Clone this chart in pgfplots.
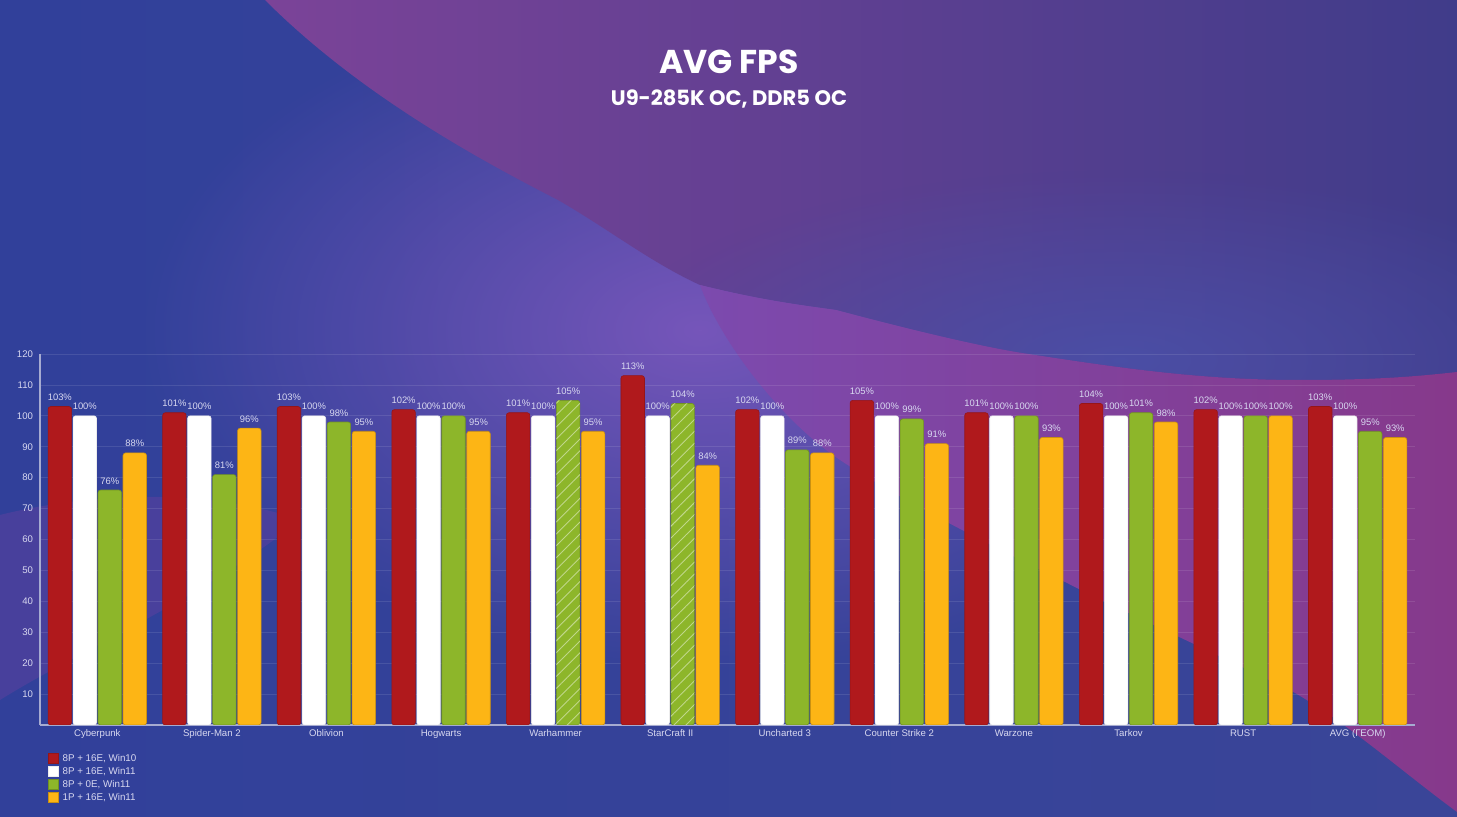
\documentclass[border=0pt]{standalone}
\usepackage{pgfplots}
\pgfplotsset{compat=1.18}
\usepackage{pgfplotstable}
\usepackage{fontspec}
\setmainfont{Liberation Sans}
\newfontfamily\titlefont{Poppins}
\usetikzlibrary{patterns.meta,fadings}

\definecolor{cred}{HTML}{B0191C}
\definecolor{cgreen}{HTML}{8DB62A}
\definecolor{corange}{HTML}{FDB515}
\definecolor{bgL}{HTML}{31409A}
\definecolor{bgR}{HTML}{3A4598}
\definecolor{glow}{HTML}{7656BA}
\definecolor{magA}{HTML}{7B4398}
\definecolor{magM}{HTML}{5F4AA6}
\definecolor{magR}{HTML}{403C8A}
\definecolor{rblue}{HTML}{4A50A8}
\definecolor{bandL}{HTML}{7C4AAE}
\definecolor{bandR}{HTML}{86398B}
\definecolor{lpatch}{HTML}{5C409E}
\definecolor{ticktext}{HTML}{D8D8F0}

\tikzfading[name=glowfade, inner color=transparent!0, outer color=transparent!100]

\pgfplotstableread{
x y
0 103
1 101
2 103
3 102
4 101
5 113
6 102
7 105
8 101
9 104
10 102
11 103
}\tRed
\pgfplotstableread{
x y
0 100
1 100
2 100
3 100
4 100
5 100
6 100
7 100
8 100
9 100
10 100
11 100
}\tWhite
\pgfplotstableread{
x y
0 76
1 81
2 98
3 100
4 105
5 104
6 89
7 99
8 100
9 101
10 100
11 95
}\tGreen
\pgfplotstableread{
x y
0 88
1 96
2 95
3 95
4 95
5 84
6 88
7 91
8 93
9 98
10 100
11 93
}\tOrange

\begin{document}
\begin{tikzpicture}
\useasboundingbox (0,0) rectangle (728.5pt,408.5pt);
\clip (0,0) rectangle (728.5pt,408.5pt);
% ---------- background (pixel coordinates, origin top-left) ----------
\begin{scope}[x=0.5pt,y=-0.5pt,yshift=408.5pt]
  \shade[left color=bgL, right color=bgR] (0,0) rectangle (1457,817);
  \fill[glow, path fading=glowfade] (700,330) ellipse [x radius=560, y radius=340];
  % left lower patch
  \fill[lpatch, opacity=0.55] (0,515) .. controls (80,495) and (200,485) .. (300,520)
        .. controls (200,600) and (80,650) .. (0,700) -- cycle;
  % top wedge + top right region
  \def\toppath{(265,0) .. controls (360,95) and (480,160) .. (558,200)
     .. controls (610,230) and (650,262) .. (700,285)
     .. controls (760,300) and (800,305) .. (836,310)
     .. controls (930,335) and (990,348) .. (1022,353)
     .. controls (1120,368) and (1200,380) .. (1300,380)
     .. controls (1380,380) and (1420,376) .. (1457,372)
     -- (1457,0) -- cycle}
  \shade[left color=magA, middle color=magM, right color=magR] \toppath;
  \begin{scope}
    \clip \toppath;
    \fill[rblue, path fading=glowfade, opacity=0.9] (1120,360) ellipse [x radius=520, y radius=190];
  \end{scope}
  % lower right band
  \shade[left color=bandL, right color=bandR]
     (700,285) .. controls (760,300) and (800,305) .. (836,310)
     .. controls (930,335) and (990,348) .. (1022,353)
     .. controls (1120,368) and (1200,380) .. (1300,380)
     .. controls (1380,380) and (1420,376) .. (1457,372)
     -- (1457,812)
     .. controls (1400,770) and (1350,725) .. (1295,693)
     .. controls (1230,660) and (1120,610) .. (1067,583)
     .. controls (1000,550) and (900,500) .. (840,460)
     .. controls (780,420) and (720,340) .. (700,285) -- cycle;
\end{scope}
% ---------- titles ----------
\node[text=white, font=\titlefont\bfseries\fontsize{16.5}{19}\selectfont] at (364.5pt,377.5pt) {AVG FPS};
\node[text=white, font=\titlefont\bfseries\fontsize{10.5}{12}\selectfont] at (364.5pt,359pt) {U9-285K OC, DDR5 OC};
% ---------- chart ----------
\begin{axis}[
  at={(20pt,46pt)}, anchor=south west, scale only axis,
  width=687.5pt, height=185.5pt,
  xmin=-0.5, xmax=11.5, ymin=0, ymax=120,
  ytick={10,20,...,120},
  xtick={0,1,...,11},
  xticklabels={Cyberpunk, Spider-Man 2, Oblivion, Hogwarts, Warhammer, StarCraft II, Uncharted 3, Counter Strike 2, Warzone, Tarkov, RUST, AVG (ГЕОМ)},
  axis x line*=bottom, axis y line*=left,
  x axis line style={-}, y axis line style={-},
  axis line style={draw=white!55!bgR, line width=0.6pt},
  major tick length=0pt, tick style={draw=none},
  ymajorgrids, grid style={draw=white, opacity=0.10, line width=0.4pt},
  tick label style={font=\fontsize{4.8}{5.5}\selectfont, text=ticktext},
  xticklabel style={yshift=1.3pt},
  /pgf/number format/assume math mode=true,
  ybar, bar width=0.205,
  every axis plot post/.append style={
     legend image code/.code={\fill[##1, sharp corners] (0pt,-2.5pt) rectangle (5pt,2.5pt);}},
  lbl/.style={nodes near coords={\pgfmathprintnumber{\pgfplotspointmeta}\%},
     every node near coord/.append style={font=\fontsize{4.7}{5.5}\selectfont, text=ticktext, inner sep=1pt, yshift=1.8pt}},
  legend style={at={(0.0058,-0.0714)}, anchor=north west, draw=none, fill=none, inner sep=0pt,
     font=\fontsize{4.9}{5.5}\selectfont, text=ticktext,
     nodes={inner sep=0.6pt, text height=4.2pt, text depth=1.1pt},
     /tikz/every odd column/.append style={column sep=1.2pt}},
  legend cell align=left,
]
\addplot[lbl, fill=cred, draw=cred!85!black, line width=0.3pt, bar shift=-0.327, rounded corners=1.3pt] table {\tRed};
\addlegendentry{8P + 16E, Win10}
\addplot[lbl, fill=white, draw=white!85!gray, line width=0.3pt, bar shift=-0.109, rounded corners=1.3pt] table {\tWhite};
\addlegendentry{8P + 16E, Win11}
\addplot[lbl, fill=cgreen, draw=cgreen!80!black, line width=0.3pt, bar shift=0.109, rounded corners=1.3pt] table {\tGreen};
\addlegendentry{8P + 0E, Win11}
\addplot[lbl, fill=corange, draw=corange!80!black, line width=0.3pt, bar shift=0.327, rounded corners=1.3pt] table {\tOrange};
\addlegendentry{1P + 16E, Win11}
% hatching on the two highlighted green bars
\addplot[forget plot, draw=none, pattern={Lines[angle=45,distance=4.2pt,line width=0.45pt]}, pattern color=cgreen!55!white, bar shift=0.109] coordinates {(4,105) (5,104)};
\end{axis}
\end{tikzpicture}
\end{document}
